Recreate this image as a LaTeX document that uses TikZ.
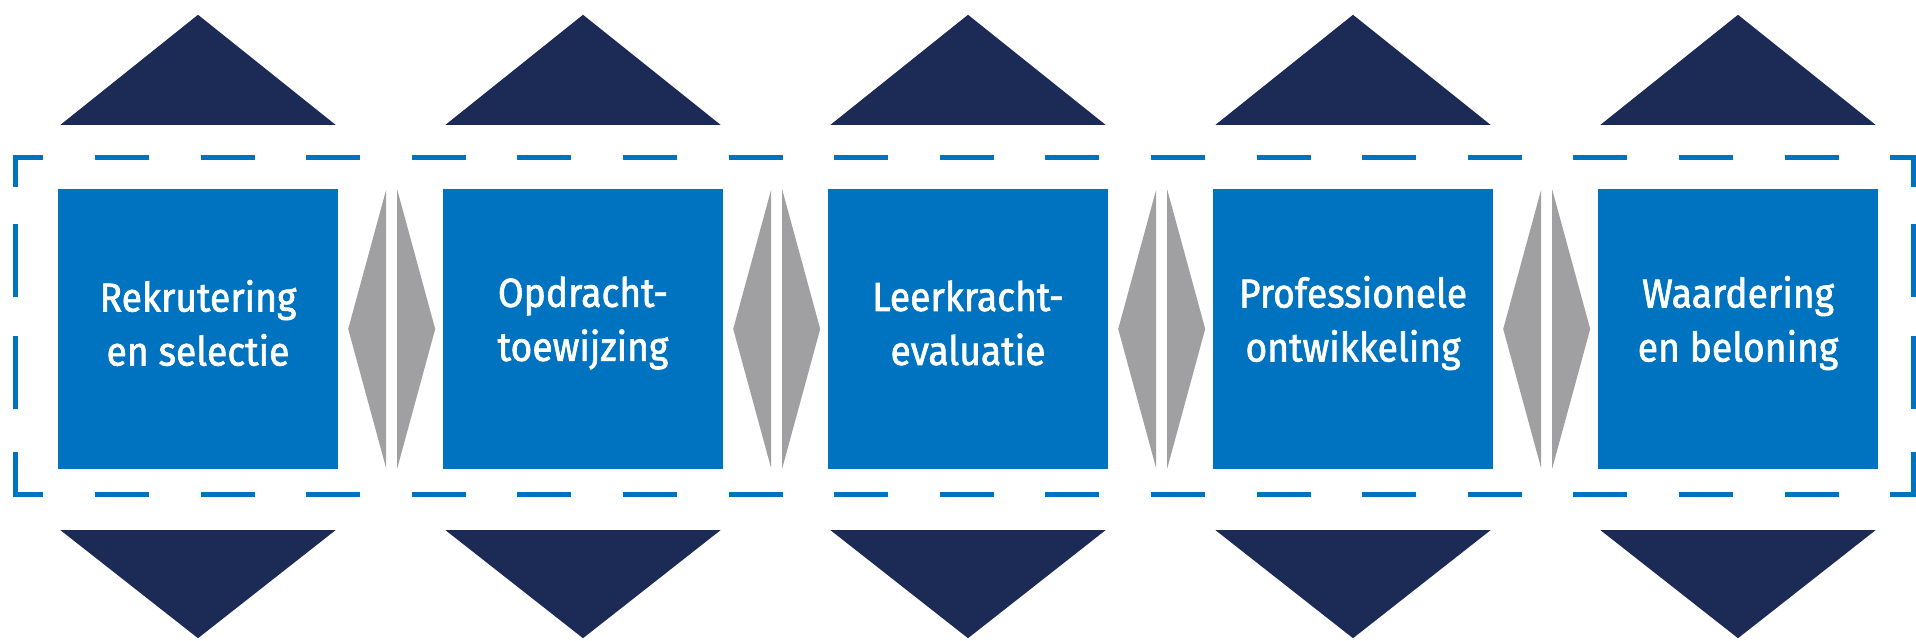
\documentclass[tikz,border=0pt]{standalone}
\usepackage{fontspec}
\usetikzlibrary{calc}
\newfontfamily\boxfont{Fira Sans}[FakeStretch=0.92,FakeBold=1.6]
\definecolor{stageblue}{RGB}{0,115,192}
\definecolor{navy}{RGB}{28,42,86}
\definecolor{linkgray}{RGB}{160,160,163}
\begin{document}
\begin{tikzpicture}[x=1pt,y=-1pt,
  stagebox/.style={fill=stageblue, draw=none, minimum width=280pt, minimum height=280pt, inner sep=0pt},
  stagetext/.style={text=white, font=\boxfont\fontsize{40.5}{54}\selectfont, align=center, inner sep=0pt},
  frameline/.style={draw=stageblue, line width=5pt, line join=miter},
  tri/.style={fill=navy},
  link/.style={fill=linkgray}]
\useasboundingbox (0,0) rectangle (1916,640);
% stage boxes
\foreach \i/\t in {1/{Rekrutering\\en selectie},2/{Opdracht-\\toewijzing},3/{Leerkracht-\\evaluatie},4/{Professionele\\ontwikkeling},5/{Waardering\\en beloning}}{
  \node[stagebox] (b\i) at ({198+385*(\i-1)},329) {};
  \node[stagetext] (t\i) at ($(b\i.center)+(0,-6)$) {\t};
  % triangles above and below
  \fill[tri] ($(b\i.north)+(-137.5,-64)$) -- ($(b\i.north)+(0,-174)$) -- ($(b\i.north)+(137.5,-64)$) -- cycle;
  \fill[tri] ($(b\i.south)+(-137.5,61)$) -- ($(b\i.south)+(0,169)$) -- ($(b\i.south)+(137.5,61)$) -- cycle;
}
% gray split diamonds between boxes
\foreach \i in {1,2,3,4}{
  \coordinate (d\i) at ($(b\i.east)+(53.5,0)$);
  \fill[link] ($(d\i)+(-5.5,-139.5)$) -- ($(d\i)+(-43.5,0)$) -- ($(d\i)+(-5.5,139.5)$) -- cycle;
  \fill[link] ($(d\i)+(5.5,-139.5)$) -- ($(d\i)+(43.5,0)$) -- ($(d\i)+(5.5,139.5)$) -- cycle;
}
% dashed frame
\foreach \k in {0,...,16}{
  \draw[frameline] ({95+105.6*\k},157) -- ++(54,0);
  \draw[frameline] ({95+105.6*\k},494) -- ++(54,0);
}
\draw[frameline] (43,157) -- (15,157) -- (15,187);
\draw[frameline] (43,494) -- (15,494) -- (15,452);
\draw[frameline] (1890,157) -- (1913,157) -- (1913,187);
\draw[frameline] (1890,494) -- (1913,494) -- (1913,452);
\foreach \y in {224,336}{
  \draw[frameline] (15,\y) -- ++(0,73);
  \draw[frameline] (1913,\y) -- ++(0,73);
}
\end{tikzpicture}
\end{document}
